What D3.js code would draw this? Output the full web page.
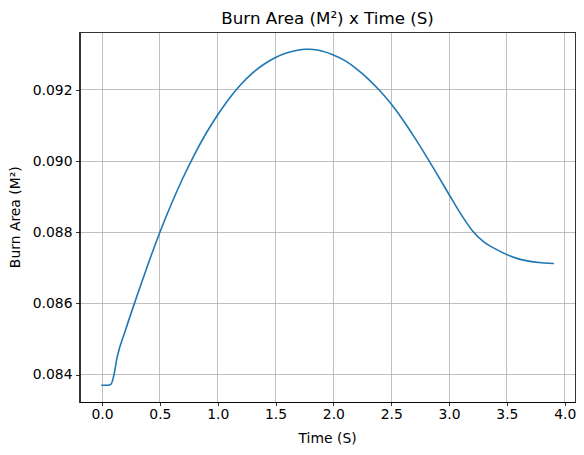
<!DOCTYPE html>
<html lang="en">
<head>
<meta charset="utf-8" />
<title>Burn Area x Time</title>
<style>
  body { margin: 0; background: #fff; }
  svg text { font-family: "DejaVu Sans", sans-serif; fill: #000; }
  .grid line { stroke: #b0b0b0; stroke-width: 0.8; shape-rendering: crispEdges; }
  .axis path, .axis line { stroke: #000; stroke-width: 0.8; shape-rendering: crispEdges; }
  .axis text { font-size: 13.9px; }
</style>
</head>
<body>
<div id="chart"></div>
<script src="https://d3js.org/d3.v7.min.js"></script>
<script>
// time (s)
var times = [0, 0.05, 0.08, 0.1, 0.13, 0.2, 0.3, 0.4, 0.5, 0.6, 0.7, 0.8, 0.9, 1.0,
  1.1, 1.2, 1.3, 1.4, 1.5, 1.6, 1.7, 1.75, 1.8, 1.9, 2.0, 2.1, 2.2, 2.3, 2.4, 2.5,
  2.6, 2.7, 2.8, 2.9, 3.0, 3.1, 3.2, 3.3, 3.4, 3.5, 3.6, 3.7, 3.8, 3.9];
// burn area (m^2)
var areas = [0.08370, 0.08370, 0.08374, 0.08395, 0.08448, 0.08522, 0.08619, 0.08712,
  0.08800, 0.08880, 0.08953, 0.09019, 0.09078, 0.09130, 0.09176, 0.09215, 0.09247,
  0.09272, 0.09291, 0.09304, 0.09312, 0.09314, 0.09314, 0.09309, 0.09298, 0.09282,
  0.09259, 0.09231, 0.09198, 0.09160, 0.09116, 0.09067, 0.09015, 0.08961, 0.08906,
  0.08852, 0.08805, 0.08773, 0.08753, 0.08737, 0.08725, 0.08718, 0.08714, 0.08712];
var xTicks = [0, 0.5, 1.0, 1.5, 2.0, 2.5, 3.0, 3.5, 4.0];
var yTicks = [0.084, 0.086, 0.088, 0.090, 0.092];

var width = 584, height = 455;
var margin = {top: 32.5, right: 8.3, bottom: 53, left: 79.5};
var w = width - margin.left - margin.right,
    h = height - margin.top - margin.bottom;

var svg = d3.select("#chart").append("svg")
  .attr("width", width)
  .attr("height", height);

var g = svg.append("g")
  .attr("transform", "translate(" + margin.left + "," + margin.top + ")");

// matplotlib-like 5% margins
var xmin = d3.min(times), xmax = d3.max(times);
var ymin = d3.min(areas), ymax = d3.max(areas);
var xpad = (xmax - xmin) * 0.05, ypad = (ymax - ymin) * 0.05;

var x = d3.scaleLinear().domain([xmin - xpad, xmax + xpad]).range([0, w]);
var y = d3.scaleLinear().domain([ymin - ypad, ymax + ypad]).range([h, 0]);

// grid
g.append("g").attr("class", "grid")
  .selectAll("line").data(xTicks).enter().append("line")
  .attr("x1", function(d) { return x(d); })
  .attr("x2", function(d) { return x(d); })
  .attr("y1", 0).attr("y2", h);
g.append("g").attr("class", "grid")
  .selectAll("line").data(yTicks).enter().append("line")
  .attr("y1", function(d) { return y(d); })
  .attr("y2", function(d) { return y(d); })
  .attr("x1", 0).attr("x2", w);

// line
var pts = times.map(function(t, i) { return [t, areas[i]]; });
g.append("path")
  .datum(pts)
  .attr("fill", "none")
  .attr("stroke", "#1f77b4")
  .attr("stroke-width", 1.6)
  .attr("stroke-linejoin", "round")
  .attr("stroke-linecap", "square")
  .attr("d", d3.line()
    .curve(d3.curveMonotoneX)
    .x(function(d) { return x(d[0]); })
    .y(function(d) { return y(d[1]); }));

// axes
var xa = g.append("g").attr("class", "axis")
  .attr("transform", "translate(0," + h + ")")
  .call(d3.axisBottom(x).tickValues(xTicks).tickFormat(d3.format(".1f"))
    .tickSizeInner(3.5).tickSizeOuter(0).tickPadding(3.5));
var ya = g.append("g").attr("class", "axis")
  .call(d3.axisLeft(y).tickValues(yTicks).tickFormat(d3.format(".3f"))
    .tickSizeInner(3.5).tickSizeOuter(0).tickPadding(3.5));
xa.selectAll("text").attr("fill", "#000");
ya.selectAll("text").attr("fill", "#000");

// frame
g.append("rect")
  .attr("width", w).attr("height", h)
  .attr("fill", "none").attr("stroke", "#000").attr("stroke-width", 0.8)
  .style("shape-rendering", "crispEdges");

// labels
svg.append("text")
  .attr("x", margin.left + w / 2).attr("y", 24)
  .attr("text-anchor", "middle")
  .style("font-size", "16.7px")
  .text("Burn Area (M²) x Time (S)");

svg.append("text")
  .attr("x", margin.left + w / 2).attr("y", 443)
  .attr("text-anchor", "middle")
  .style("font-size", "13.9px")
  .text("Time (S)");

svg.append("text")
  .attr("transform", "translate(20," + (margin.top + h / 2) + ") rotate(-90)")
  .attr("text-anchor", "middle")
  .style("font-size", "13.9px")
  .text("Burn Area (M²)");
</script>
</body>
</html>
